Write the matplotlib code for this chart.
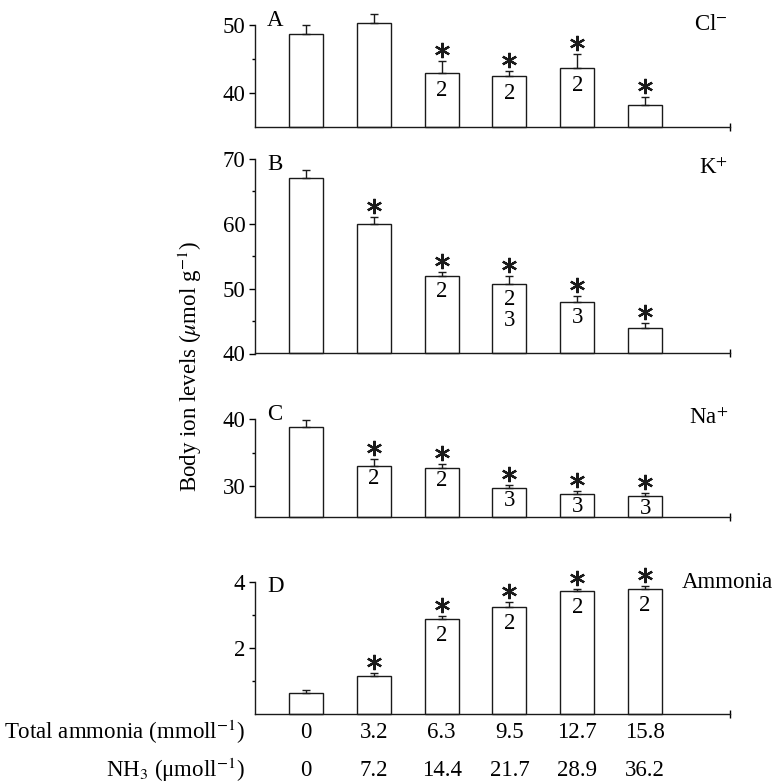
import matplotlib
matplotlib.use("Agg")
import matplotlib.pyplot as plt
import matplotlib.transforms as mtransforms
import numpy as np

plt.rcParams['font.family'] = ['Liberation Serif', 'DejaVu Serif']
plt.rcParams['mathtext.fontset'] = 'stix'
plt.rcParams['font.size'] = 16.5

# ---------------- data ----------------
total_ammonia = ["0", "3.2", "6.3", "9.5", "12.7", "15.8"]
nh3 = ["0", "7.2", "14.4", "21.7", "28.9", "36.2"]

cl_mean = [48.7, 50.3, 42.9, 42.4, 43.6, 38.2]
cl_se = [1.3, 1.3, 1.8, 0.8, 2.1, 1.2]
cl_sig = [False, False, True, True, True, True]
cl_lab = ["", "", "2", "2", "2", ""]

k_mean = [67.1, 60.0, 51.9, 50.7, 47.9, 44.0]
k_se = [1.2, 1.0, 0.7, 1.2, 0.9, 0.7]
k_sig = [False, True, True, True, True, True]
k_lab = ["", "", "2", "2\n3", "3", ""]

na_mean = [38.9, 33.0, 32.7, 29.7, 28.8, 28.5]
na_se = [1.0, 1.0, 0.6, 0.35, 0.4, 0.4]
na_sig = [False, True, True, True, True, True]
na_lab = ["", "2", "2", "3", "3", "3"]

am_mean = [0.64, 1.15, 2.88, 3.25, 3.73, 3.79]
am_se = [0.08, 0.10, 0.10, 0.15, 0.06, 0.08]
am_sig = [False, True, True, True, True, True]
am_lab = ["", "", "2", "2", "2", "2"]

W, H = 780, 783
fig = plt.figure(figsize=(W / 100, H / 100), dpi=100)

LEFT, RIGHT = 255, 730
FS = 16.5


def make_ax(top, bottom):
    return fig.add_axes([LEFT / W, 1 - bottom / H, (RIGHT - LEFT) / W, (bottom - top) / H])


panels = [
    dict(top=25, bottom=126.5, ylim=(35, 50), major=[40, 50], minor=[45], mean=cl_mean, se=cl_se,
         sig=cl_sig, lab=cl_lab, lab_off=-7, letter="A", letter_y=21, ion="Cl$^{-}$", ion_y=25,
         ion_ha='right'),
    dict(top=159, bottom=353.5, ylim=(40, 70), major=[40, 50, 60, 70], minor=[45, 55, 65], mean=k_mean,
         se=k_se, sig=k_sig, lab=k_lab, lab_off=-5, letter="B", letter_y=165, ion="K$^{+}$", ion_y=168,
         ion_ha='right'),
    dict(top=419.3, bottom=517, ylim=(25.3, 40), major=[30, 40], minor=[35], mean=na_mean, se=na_se,
         sig=na_sig, lab=na_lab, lab_off=-2, letter="C", letter_y=414, ion="Na$^{+}$", ion_y=418,
         ion_ha='right'),
    dict(top=582, bottom=714, ylim=(0, 4), major=[2, 4], minor=[1, 3], mean=am_mean, se=am_se,
         sig=am_sig, lab=am_lab, lab_off=-6, letter="D", letter_y=586, ion="Ammonia", ion_y=582,
         ion_ha='left'),
]

x = np.arange(6)
lc = '#1a1a1a'
axes = []
for p in panels:
    ax = make_ax(p['top'], p['bottom'])
    axes.append(ax)
    lo = p['ylim'][0]
    mean = np.array(p['mean'])
    bars = ax.bar(x, mean - lo, bottom=lo, width=0.5, color='white', edgecolor=lc,
                  linewidth=1.0, zorder=2)
    for b in bars:
        b.set_clip_on(False)
    ax.errorbar(x, mean, yerr=[np.zeros(6), p['se']], fmt='none', ecolor=lc,
                elinewidth=1.0, capsize=3, capthick=1.0, zorder=3, clip_on=False)
    ax.set_xlim(-0.75, 6.25)
    ax.set_ylim(*p['ylim'])
    for s in ['top', 'right']:
        ax.spines[s].set_visible(False)
    for s in ['left', 'bottom']:
        ax.spines[s].set_linewidth(1.0)
        ax.spines[s].set_color(lc)
    ax.set_yticks(p['major'])
    ax.set_yticks(p['minor'], minor=True)
    ax.tick_params(axis='y', which='major', length=4, width=1, direction='out', pad=3, labelsize=FS)
    ax.tick_params(axis='y', which='minor', length=2, width=1, direction='out')
    ax.set_xticks([6.25])
    ax.set_xticklabels([])
    ax.tick_params(axis='x', which='major', length=6, width=1, direction='inout')
    ax.patch.set_visible(False)

    # asterisks above error caps
    off = mtransforms.offset_copy(ax.transData, fig=fig, x=0, y=11, units='dots')
    caps = mean + np.array(p['se'])
    for xi, c, s in zip(x, caps, p['sig']):
        if s:
            ax.plot(xi, c, marker=(6, 2, 0), ms=11, mew=1.6, color=lc, transform=off, clip_on=False)

    # group labels inside bars
    off2 = mtransforms.offset_copy(ax.transData, fig=fig, x=0, y=p['lab_off'], units='dots')
    for xi, m, l in zip(x, mean, p['lab']):
        if l:
            ax.text(xi, m, l, ha='center', va='top', transform=off2, fontsize=FS, linespacing=1.0,
                    zorder=4)

    fig.text(267 / W, 1 - p['letter_y'] / H, p['letter'], ha='left', va='center', fontsize=FS)
    ion_x = 728 if p['ion_ha'] == 'right' else 682
    fig.text(ion_x / W, 1 - p['ion_y'] / H, p['ion'], ha=p['ion_ha'], va='center', fontsize=FS)

# bottom rows of concentrations
axD = axes[-1]
bt = mtransforms.blended_transform_factory(axD.transData, fig.transFigure)
for xi, ta, n in zip(x, total_ammonia, nh3):
    axD.text(xi, 1 - 732 / H, ta, transform=bt, ha='center', va='center', fontsize=FS)
    axD.text(xi, 1 - 770 / H, n, transform=bt, ha='center', va='center', fontsize=FS)
fig.text(245 / W, 1 - 732 / H, "Total ammonia (mmoll$^{-1}$)", ha='right', va='center', fontsize=FS)
fig.text(245 / W, 1 - 770 / H, "NH$_{3}$ (\u03bcmoll$^{-1}$)", ha='right', va='center', fontsize=FS)

fig.text(190 / W, 1 - 367 / H, "Body ion levels ($\\mu$mol g$^{-1}$)", rotation=90,
         ha='center', va='center', fontsize=FS)

fig.savefig("out.png", dpi=100, facecolor='white')
